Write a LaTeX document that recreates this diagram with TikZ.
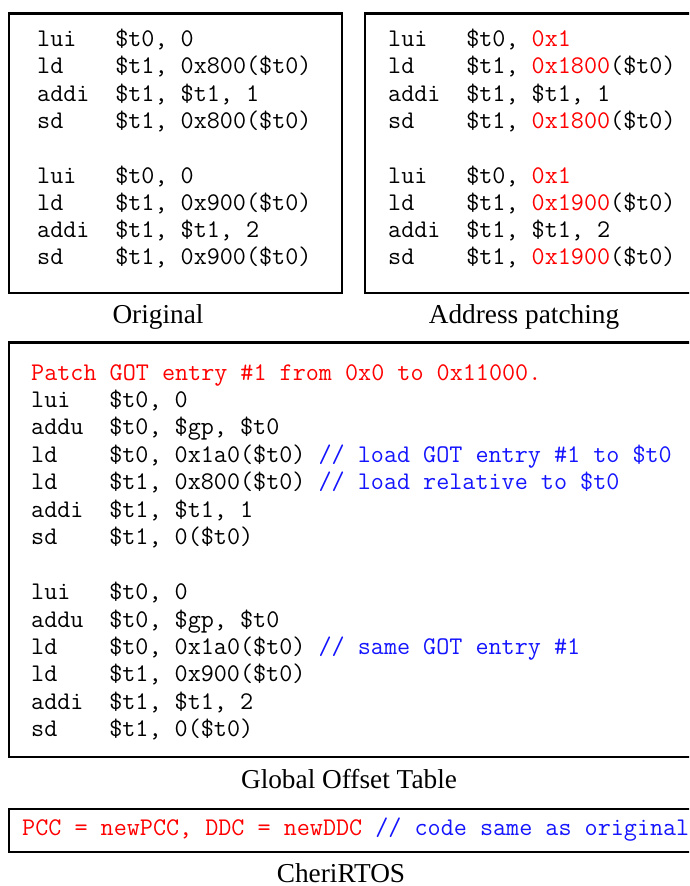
\documentclass[tikz,border=0pt]{standalone}
\usepackage{fontspec}
\setmainfont{Liberation Serif}
\definecolor{codered}{HTML}{FF0000}
\definecolor{codeblue}{HTML}{1414FF}
\tikzset{frame/.style={draw=black, line width=2.4pt},
  code/.style={anchor=base west, inner sep=0pt, font=\ttfamily\fontsize{25.4}{27.5}\selectfont},
  caption/.style={anchor=base, inner sep=0pt, font=\fontsize{27.3}{30}\selectfont}}
\newcommand{\opc}[1]{\makebox[78.1pt][l]{#1}}
\newcommand{\hl}[1]{{\color{codered}#1}}
\newcommand{\cm}[1]{{\color{codeblue}#1}}

\begin{document}
\begin{tikzpicture}[x=1pt, y=-1pt]
  \clip (0,0) rectangle (689,886);
  % original and patched code
  \draw[frame] (9,13.5) rectangle (342,293);
  \draw[frame] (365,13.5) rectangle (700,293);
  \foreach \op/\rest [count=\i] in {lui/{\$t0, 0}, ld/{\$t1, 0x800(\$t0)}, addi/{\$t1, \$t1, 1}, sd/{\$t1, 0x800(\$t0)},
      lui/{\$t0, 0}, ld/{\$t1, 0x900(\$t0)}, addi/{\$t1, \$t1, 2}, sd/{\$t1, 0x900(\$t0)}}{
    \pgfmathsetmacro{\yy}{46.5+27.3*(\i-1+(\i>4))}
    \node[code] (orig-\i) at (37,\yy) {\opc{\op}\rest};}
  \foreach \op/\rest [count=\i] in {lui/{\$t0, \hl{0x1}}, ld/{\$t1, \hl{0x1800}(\$t0)}, addi/{\$t1, \$t1, 1}, sd/{\$t1, \hl{0x1800}(\$t0)},
      lui/{\$t0, \hl{0x1}}, ld/{\$t1, \hl{0x1900}(\$t0)}, addi/{\$t1, \$t1, 2}, sd/{\$t1, \hl{0x1900}(\$t0)}}{
    \pgfmathsetmacro{\yy}{46.5+27.3*(\i-1+(\i>4))}
    \node[code] (patch-\i) at (388,\yy) {\opc{\op}\rest};}
  \node[caption] (orig-cap) at (158,323.5) {Original};
  \node[caption] (patch-cap) at (524,323.5) {Address patching};
  % global offset table
  \draw[frame] (9,342.5) rectangle (700,757);
  \node[code] (got-0) at (31,380) {\hl{Patch GOT entry \#1 from 0x0 to 0x11000.}};
  \foreach \op/\rest [count=\i] in {lui/{\$t0, 0}, addu/{\$t0, \$gp, \$t0}, ld/{\$t0, 0x1a0(\$t0) \cm{// load GOT entry \#1 to \$t0}},
      ld/{\$t1, 0x800(\$t0) \cm{// load relative to \$t0}}, addi/{\$t1, \$t1, 1}, sd/{\$t1, 0(\$t0)},
      lui/{\$t0, 0}, addu/{\$t0, \$gp, \$t0}, ld/{\$t0, 0x1a0(\$t0) \cm{// same GOT entry \#1}},
      ld/{\$t1, 0x900(\$t0)}, addi/{\$t1, \$t1, 2}, sd/{\$t1, 0(\$t0)}}{
    \pgfmathsetmacro{\yy}{380+27.45*(\i+(\i>6))}
    \node[code] (got-\i) at (31,\yy) {\opc{\op}\rest};}
  \node[caption] (got-cap) at (349,788) {Global Offset Table};
  % cheri
  \draw[frame] (9,809) rectangle (700,852);
  \node[code] (cheri) at (22,835) {\hl{PCC = newPCC, DDC = newDDC} \cm{// code same as original}};
  \node[caption] (cheri-cap) at (341,882) {CheriRTOS};
\end{tikzpicture}
\end{document}
